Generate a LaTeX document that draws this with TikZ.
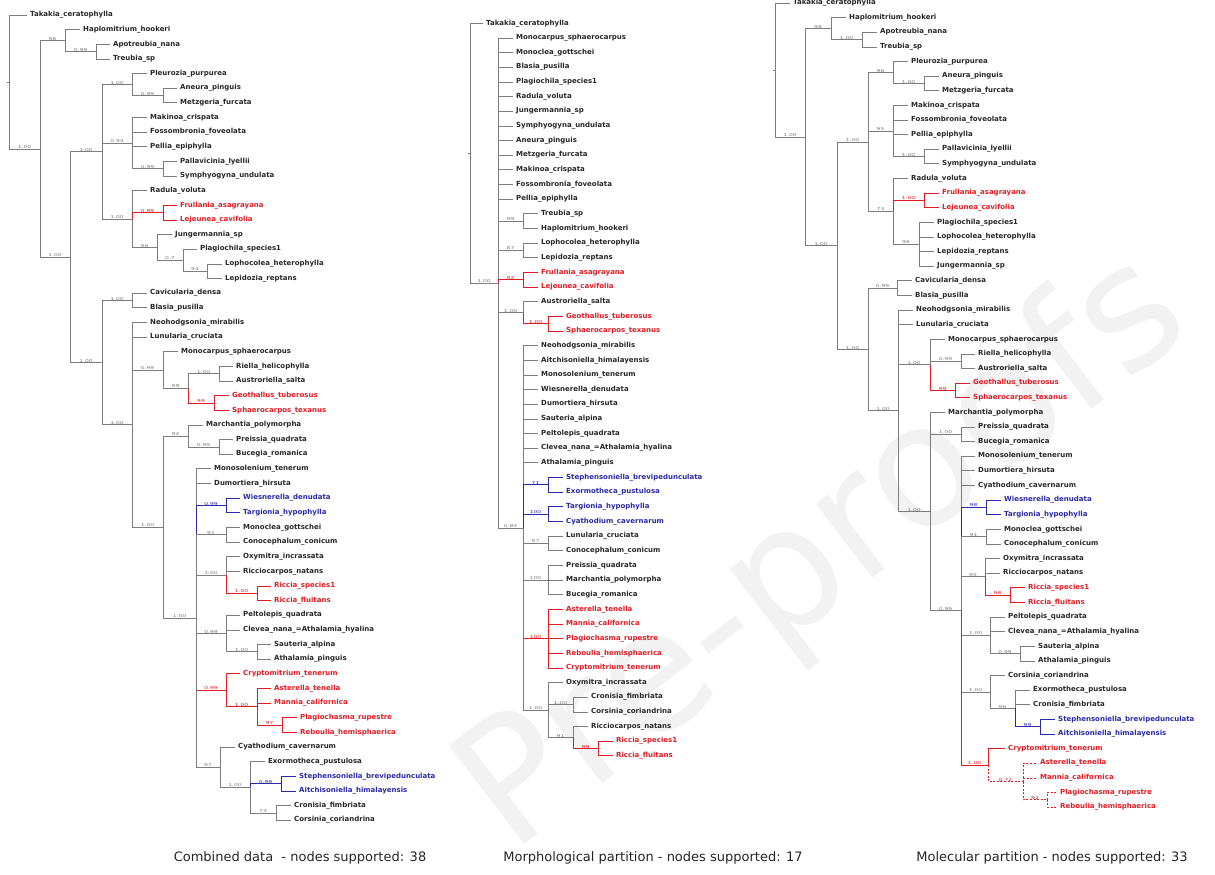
\documentclass[tikz,border=0pt]{standalone}
\usepackage{fontspec}
\usepackage{graphicx}
\newfontfamily\dejavu{DejaVu Sans}
\definecolor{linegray}{RGB}{125,125,125}
\definecolor{taxgray}{RGB}{40,40,40}
\definecolor{treered}{RGB}{226,28,36}
\definecolor{treeblue}{RGB}{42,42,168}
\definecolor{markgray}{RGB}{242,242,242}
\tikzset{
  brline/.style={line width=0.7pt},
  taxon/.style={anchor=west, inner xsep=3pt, inner ysep=0pt, text height=5pt, text depth=1.5pt,
    font=\dejavu\bfseries\fontsize{7}{8}\selectfont},
  supp/.style={anchor=south, inner sep=0.3pt, yshift=-0.3pt, font=\dejavu\fontsize{4}{5}\selectfont},
  gry/.style={color=linegray}, rd/.style={color=treered}, bl/.style={color=treeblue},
  dsh/.style={color=treered, dash pattern=on 2pt off 1.6pt},
  grytxt/.style={text=taxgray}, rdtxt/.style={text=treered}, bltxt/.style={text=treeblue},
  dshtxt/.style={text=treered},
  capt/.style={font=\dejavu\fontsize{13}{15}\selectfont, text=black!85},
}
% leaf: [colour]{parent}{name}{end x,row}{text}
\newcommand\taxon[5][gry]{%
  \node[taxon,#1txt] (#3) at (#4) {#5};
  \draw[brline,#1] (#2) |- (#3.west);}
% inner node: [colour]{parent}{name}{x,row}{support}
\newcommand\clade[5][gry]{%
  \coordinate (#3) at (#4);
  \draw[brline,#1] (#2) |- (#3) node[supp,pos=0.75] (#3s) {\scalebox{1.5}[1]{#5}};}
\begin{document}
\begin{tikzpicture}[x=1pt,y=-1pt]
	\fill[white] (0,0) rectangle (1215,875);
	\useasboundingbox (0,0) rectangle (1215,875);
	\node[font=\dejavu\fontsize{170}{170}\selectfont, text=markgray, rotate=37.5] (mark) at (825,555) {Pre-proofs};
	% combined data
	\begin{scope}[y=-14.64pt, yshift=-15pt]
	\coordinate (cR) at (9,4.57);
	\draw[brline,gry] (cR) -- ++(-2,0);
	\taxon{cR}{c0}{27,0}{Takakia\_ceratophylla}
	\clade{cR}{cA}{40,9.145}{1.00}
	\clade{cA}{cH}{65,1.75}{98}
	\taxon{cH}{c1}{80,1}{Haplomitrium\_hookeri}
	\clade{cH}{cH2}{96,2.5}{0.99}
	\taxon{cH2}{c2}{110,2}{Apotreubia\_nana}
	\taxon{cH2}{c3}{110,3}{Treubia\_sp}
	\clade{cA}{cB}{70,16.54}{1.00}
	\clade{cB}{cC1}{102,9.34}{1.00}
	\clade{cC1}{cP}{132,4.75}{1.00}
	\taxon{cP}{c4}{147,4}{Pleurozia\_purpurea}
	\clade{cP}{cP2}{163,5.5}{0.99}
	\taxon{cP2}{c5}{177,5}{Aneura\_pinguis}
	\taxon{cP2}{c6}{177,6}{Metzgeria\_furcata}
	\clade{cC1}{cM}{132,8.75}{0.94}
	\taxon{cM}{c7}{147,7}{Makinoa\_crispata}
	\taxon{cM}{c8}{147,8}{Fossombronia\_foveolata}
	\taxon{cM}{c9}{147,9}{Pellia\_epiphylla}
	\clade{cM}{cM2}{163,10.5}{0.99}
	\taxon{cM2}{c10}{177,10}{Pallavicinia\_lyellii}
	\taxon{cM2}{c11}{177,11}{Symphyogyna\_undulata}
	\clade{cC1}{cJ}{132,13.94}{1.00}
	\taxon{cJ}{c12}{147,12}{Radula\_voluta}
	\clade[rd]{cJ}{cFr}{163,13.5}{0.99}
	\taxon[rd]{cFr}{c13}{177,13}{Frullania\_asagrayana}
	\taxon[rd]{cFr}{c14}{177,14}{Lejeunea\_cavifolia}
	\clade{cJ}{cJ2}{157,15.875}{96}
	\taxon{cJ2}{c15}{172,15}{Jungermannia\_sp}
	\clade{cJ2}{cJ3}{183,16.75}{0.7}
	\taxon{cJ3}{c16}{197,16}{Plagiochila\_species1}
	\clade{cJ3}{cJ4}{207,17.5}{94}
	\taxon{cJ4}{c17}{222,17}{Lophocolea\_heterophylla}
	\taxon{cJ4}{c18}{222,18}{Lepidozia\_reptans}
	\clade{cB}{cC2}{102,23.74}{1.00}
	\clade{cC2}{cCa}{132,19.5}{1.00}
	\taxon{cCa}{c19}{147,19}{Cavicularia\_densa}
	\taxon{cCa}{c20}{147,20}{Blasia\_pusilla}
	\clade{cC2}{cD}{132,27.98}{1.00}
	\taxon{cD}{c21}{147,21}{Neohodgsonia\_mirabilis}
	\taxon{cD}{c22}{147,22}{Lunularia\_cruciata}
	\clade{cD}{cMo}{163,24.25}{0.99}
	\taxon{cMo}{c23}{178,23}{Monocarpus\_sphaerocarpus}
	\clade{cMo}{cMo2}{188,25.5}{99}
	\clade{cMo2}{cRi}{219,24.5}{1.00}
	\taxon{cRi}{c24}{233,24}{Riella\_helicophylla}
	\taxon{cRi}{c25}{233,25}{Austroriella\_salta}
	\clade[rd]{cMo2}{cGe}{214,26.5}{99}
	\taxon[rd]{cGe}{c26}{229,26}{Geothallus\_tuberosus}
	\taxon[rd]{cGe}{c27}{229,27}{Sphaerocarpos\_texanus}
	\clade{cD}{cE}{163,34.97}{1.00}
	\clade{cE}{cMa}{188,28.75}{94}
	\taxon{cMa}{c28}{203,28}{Marchantia\_polymorpha}
	\clade{cMa}{cPr}{219,29.5}{0.99}
	\taxon{cPr}{c29}{233,29}{Preissia\_quadrata}
	\taxon{cPr}{c30}{233,30}{Bucegia\_romanica}
	\clade{cE}{cF}{196,41.19}{1.00}
	\taxon{cF}{c31}{211,31}{Monosolenium\_tenerum}
	\taxon{cF}{c32}{211,32}{Dumortiera\_hirsuta}
	\clade[bl]{cF}{cWi}{226,33.5}{0.99}
	\taxon[bl]{cWi}{c33}{240,33}{Wiesnerella\_denudata}
	\taxon[bl]{cWi}{c34}{240,34}{Targionia\_hypophylla}
	\clade{cF}{cMn}{226,35.5}{91}
	\taxon{cMn}{c35}{240,35}{Monoclea\_gottschei}
	\taxon{cMn}{c36}{240,36}{Conocephalum\_conicum}
	\clade{cF}{cOx}{226,38.25}{1.00}
	\taxon{cOx}{c37}{240,37}{Oxymitra\_incrassata}
	\taxon{cOx}{c38}{240,38}{Ricciocarpos\_natans}
	\clade[rd]{cOx}{cRc}{257,39.5}{1.00}
	\taxon[rd]{cRc}{c39}{271,39}{Riccia\_species1}
	\taxon[rd]{cRc}{c40}{271,40}{Riccia\_fluitans}
	\clade{cF}{cPe}{226,42.25}{0.99}
	\taxon{cPe}{c41}{240,41}{Peltolepis\_quadrata}
	\taxon{cPe}{c42}{240,42}{Clevea\_nana\_=Athalamia\_hyalina}
	\clade{cPe}{cSa}{257,43.5}{1.00}
	\taxon{cSa}{c43}{271,43}{Sauteria\_alpina}
	\taxon{cSa}{c44}{271,44}{Athalamia\_pinguis}
	\clade[rd]{cF}{cCr}{226,46.125}{0.99}
	\taxon[rd]{cCr}{c45}{240,45}{Cryptomitrium\_tenerum}
	\clade[rd]{cCr}{cAs}{257,47.25}{1.00}
	\taxon[rd]{cAs}{c46}{271,46}{Asterella\_tenella}
	\taxon[rd]{cAs}{c47}{271,47}{Mannia\_californica}
	\clade[rd]{cAs}{cPl}{282,48.5}{97}
	\taxon[rd]{cPl}{c48}{297,48}{Plagiochasma\_rupestre}
	\taxon[rd]{cPl}{c49}{297,49}{Reboulia\_hemisphaerica}
	\clade{cF}{cCy}{220,51.375}{97}
	\taxon{cCy}{c50}{235,50}{Cyathodium\_cavernarum}
	\clade{cCy}{cEx}{250,52.75}{1.00}
	\taxon{cEx}{c51}{265,51}{Exormotheca\_pustulosa}
	\clade[bl]{cEx}{cSt}{281,52.5}{0.99}
	\taxon[bl]{cSt}{c52}{296,52}{Stephensoniella\_brevipedunculata}
	\taxon[bl]{cSt}{c53}{296,53}{Aitchisoniella\_himalayensis}
	\clade{cEx}{cCo}{276,54.5}{73}
	\taxon{cCo}{c54}{291,54}{Cronisia\_fimbriata}
	\taxon{cCo}{c55}{291,55}{Corsinia\_coriandrina}
	\end{scope}
	% morphological partition
	\begin{scope}[y=-14.65pt, yshift=-23.3pt]
	\coordinate (mR) at (470,8.86);
	\draw[brline,gry] (mR) -- ++(-2,0);
	\taxon{mR}{m0}{483,0}{Takakia\_ceratophylla}
	\clade{mR}{mA}{498,17.72}{1.00}
	\taxon{mA}{m1}{513,1}{Monocarpus\_sphaerocarpus}
	\taxon{mA}{m2}{513,2}{Monoclea\_gottschei}
	\taxon{mA}{m3}{513,3}{Blasia\_pusilla}
	\taxon{mA}{m4}{513,4}{Plagiochila\_species1}
	\taxon{mA}{m5}{513,5}{Radula\_voluta}
	\taxon{mA}{m6}{513,6}{Jungermannia\_sp}
	\taxon{mA}{m7}{513,7}{Symphyogyna\_undulata}
	\taxon{mA}{m8}{513,8}{Aneura\_pinguis}
	\taxon{mA}{m9}{513,9}{Metzgeria\_furcata}
	\taxon{mA}{m10}{513,10}{Makinoa\_crispata}
	\taxon{mA}{m11}{513,11}{Fossombronia\_foveolata}
	\taxon{mA}{m12}{513,12}{Pellia\_epiphylla}
	\clade{mA}{mT}{523,13.5}{99}
	\taxon{mT}{m13}{538,13}{Treubia\_sp}
	\taxon{mT}{m14}{538,14}{Haplomitrium\_hookeri}
	\clade{mA}{mLo}{523,15.5}{87}
	\taxon{mLo}{m15}{538,15}{Lophocolea\_heterophylla}
	\taxon{mLo}{m16}{538,16}{Lepidozia\_reptans}
	\clade[rd]{mA}{mFr}{523,17.5}{92}
	\taxon[rd]{mFr}{m17}{538,17}{Frullania\_asagrayana}
	\taxon[rd]{mFr}{m18}{538,18}{Lejeunea\_cavifolia}
	\clade{mA}{mAu}{523,19.75}{1.00}
	\taxon{mAu}{m19}{538,19}{Austroriella\_salta}
	\clade[rd]{mAu}{mGe}{548,20.5}{1.00}
	\taxon[rd]{mGe}{m20}{563,20}{Geothallus\_tuberosus}
	\taxon[rd]{mGe}{m21}{563,21}{Sphaerocarpos\_texanus}
	\clade{mA}{mN}{523,34.44}{0.83}
	\taxon{mN}{m22}{538,22}{Neohodgsonia\_mirabilis}
	\taxon{mN}{m23}{538,23}{Aitchisoniella\_himalayensis}
	\taxon{mN}{m24}{538,24}{Monosolenium\_tenerum}
	\taxon{mN}{m25}{538,25}{Wiesnerella\_denudata}
	\taxon{mN}{m26}{538,26}{Dumortiera\_hirsuta}
	\taxon{mN}{m27}{538,27}{Sauteria\_alpina}
	\taxon{mN}{m28}{538,28}{Peltolepis\_quadrata}
	\taxon{mN}{m29}{538,29}{Clevea\_nana\_=Athalamia\_hyalina}
	\taxon{mN}{m30}{538,30}{Athalamia\_pinguis}
	\clade[bl]{mN}{mSt}{548,31.5}{71}
	\taxon[bl]{mSt}{m31}{563,31}{Stephensoniella\_brevipedunculata}
	\taxon[bl]{mSt}{m32}{563,32}{Exormotheca\_pustulosa}
	\clade[bl]{mN}{mTa}{548,33.5}{100}
	\taxon[bl]{mTa}{m33}{563,33}{Targionia\_hypophylla}
	\taxon[bl]{mTa}{m34}{563,34}{Cyathodium\_cavernarum}
	\clade{mN}{mLu}{548,35.5}{97}
	\taxon{mLu}{m35}{563,35}{Lunularia\_cruciata}
	\taxon{mLu}{m36}{563,36}{Conocephalum\_conicum}
	\clade{mN}{mPr}{548,38}{100}
	\taxon{mPr}{m37}{563,37}{Preissia\_quadrata}
	\taxon{mPr}{m38}{563,38}{Marchantia\_polymorpha}
	\taxon{mPr}{m39}{563,39}{Bucegia\_romanica}
	\clade[rd]{mN}{mAs}{548,42}{100}
	\taxon[rd]{mAs}{m40}{563,40}{Asterella\_tenella}
	\taxon[rd]{mAs}{m41}{563,41}{Mannia\_californica}
	\taxon[rd]{mAs}{m42}{563,42}{Plagiochasma\_rupestre}
	\taxon[rd]{mAs}{m43}{563,43}{Reboulia\_hemisphaerica}
	\taxon[rd]{mAs}{m44}{563,44}{Cryptomitrium\_tenerum}
	\clade{mN}{mOx}{548,46.875}{1.00}
	\taxon{mOx}{m45}{563,45}{Oxymitra\_incrassata}
	\clade{mOx}{mCr}{573,46.5}{1.00}
	\taxon{mCr}{m46}{588,46}{Cronisia\_fimbriata}
	\taxon{mCr}{m47}{588,47}{Corsinia\_coriandrina}
	\clade{mOx}{mRi}{573,48.75}{91}
	\taxon{mRi}{m48}{588,48}{Ricciocarpos\_natans}
	\clade[rd]{mRi}{mRc}{598,49.5}{99}
	\taxon[rd]{mRc}{m49}{613,49}{Riccia\_species1}
	\taxon[rd]{mRc}{m50}{613,50}{Riccia\_fluitans}
	\end{scope}
	% molecular partition
	\begin{scope}[y=-14.62pt, yshift=-3pt]
	\coordinate (kR) at (775,4.59);
	\draw[brline,gry] (kR) -- ++(-2,0);
	\taxon{kR}{k0}{790,0}{Takakia\_ceratophylla}
	\clade{kR}{kA}{805,9.17}{1.00}
	\clade{kA}{kH}{831,1.75}{98}
	\taxon{kH}{k1}{846,1}{Haplomitrium\_hookeri}
	\clade{kH}{kH2}{862,2.5}{1.00}
	\taxon{kH2}{k2}{877,2}{Apotreubia\_nana}
	\taxon{kH2}{k3}{877,3}{Treubia\_sp}
	\clade{kA}{kB}{837,16.6}{1.00}
	\clade{kB}{kC1}{868,9.5}{1.00}
	\clade{kC1}{kP}{893,4.75}{96}
	\taxon{kP}{k4}{908,4}{Pleurozia\_purpurea}
	\clade{kP}{kP2}{924,5.5}{1.00}
	\taxon{kP2}{k5}{939,5}{Aneura\_pinguis}
	\taxon{kP2}{k6}{939,6}{Metzgeria\_furcata}
	\clade{kC1}{kM}{893,8.75}{95}
	\taxon{kM}{k7}{908,7}{Makinoa\_crispata}
	\taxon{kM}{k8}{908,8}{Fossombronia\_foveolata}
	\taxon{kM}{k9}{908,9}{Pellia\_epiphylla}
	\clade{kM}{kM2}{924,10.5}{1.00}
	\taxon{kM2}{k10}{939,10}{Pallavicinia\_lyellii}
	\taxon{kM2}{k11}{939,11}{Symphyogyna\_undulata}
	\clade{kC1}{kJ}{893,14.25}{73}
	\taxon{kJ}{k12}{908,12}{Radula\_voluta}
	\clade[rd]{kJ}{kFr}{924,13.5}{1.00}
	\taxon[rd]{kFr}{k13}{939,13}{Frullania\_asagrayana}
	\taxon[rd]{kFr}{k14}{939,14}{Lejeunea\_cavifolia}
	\clade{kJ}{kPl}{919,16.5}{96}
	\taxon{kPl}{k15}{934,15}{Plagiochila\_species1}
	\taxon{kPl}{k16}{934,16}{Lophocolea\_heterophylla}
	\taxon{kPl}{k17}{934,17}{Lepidozia\_reptans}
	\taxon{kPl}{k18}{934,18}{Jungermannia\_sp}
	\clade{kB}{kC2}{868,23.7}{1.00}
	\clade{kC2}{kCa}{897,19.5}{0.99}
	\taxon{kCa}{k19}{912,19}{Cavicularia\_densa}
	\taxon{kCa}{k20}{912,20}{Blasia\_pusilla}
	\clade{kC2}{kD}{898,27.89}{1.00}
	\taxon{kD}{k21}{913,21}{Neohodgsonia\_mirabilis}
	\taxon{kD}{k22}{913,22}{Lunularia\_cruciata}
	\clade{kD}{kMo}{930,24.75}{1.00}
	\taxon{kMo}{k23}{945,23}{Monocarpus\_sphaerocarpus}
	\clade{kMo}{kRi}{961,24.5}{0.99}
	\taxon{kRi}{k24}{975,24}{Riella\_helicophylla}
	\taxon{kRi}{k25}{975,25}{Austroriella\_salta}
	\clade[rd]{kMo}{kGe}{955,26.5}{99}
	\taxon[rd]{kGe}{k26}{970,26}{Geothallus\_tuberosus}
	\taxon[rd]{kGe}{k27}{970,27}{Sphaerocarpos\_texanus}
	\clade{kD}{kE}{930,34.78}{1.00}
	\taxon{kE}{k28}{945,28}{Marchantia\_polymorpha}
	\clade{kE}{kPr}{961,29.5}{1.00}
	\taxon{kPr}{k29}{975,29}{Preissia\_quadrata}
	\taxon{kPr}{k30}{975,30}{Bucegia\_romanica}
	\clade{kE}{kF}{961,41.56}{0.99}
	\taxon{kF}{k31}{975,31}{Monosolenium\_tenerum}
	\taxon{kF}{k32}{975,32}{Dumortiera\_hirsuta}
	\taxon{kF}{k33}{975,33}{Cyathodium\_cavernarum}
	\clade[bl]{kF}{kWi}{986,34.5}{98}
	\taxon[bl]{kWi}{k34}{1001,34}{Wiesnerella\_denudata}
	\taxon[bl]{kWi}{k35}{1001,35}{Targionia\_hypophylla}
	\clade{kF}{kMn}{986,36.5}{91}
	\taxon{kMn}{k36}{1001,36}{Monoclea\_gottschei}
	\taxon{kMn}{k37}{1001,37}{Conocephalum\_conicum}
	\clade{kF}{kOx}{985,39.25}{95}
	\taxon{kOx}{k38}{1000,38}{Oxymitra\_incrassata}
	\taxon{kOx}{k39}{1000,39}{Ricciocarpos\_natans}
	\clade[rd]{kOx}{kRc}{1010,40.5}{98}
	\taxon[rd]{kRc}{k40}{1025,40}{Riccia\_species1}
	\taxon[rd]{kRc}{k41}{1025,41}{Riccia\_fluitans}
	\clade{kF}{kPe}{990,43.25}{1.00}
	\taxon{kPe}{k42}{1005,42}{Peltolepis\_quadrata}
	\taxon{kPe}{k43}{1005,43}{Clevea\_nana\_=Athalamia\_hyalina}
	\clade{kPe}{kSa}{1020,44.5}{0.99}
	\taxon{kSa}{k44}{1035,44}{Sauteria\_alpina}
	\taxon{kSa}{k45}{1035,45}{Athalamia\_pinguis}
	\clade{kF}{kCo}{990,47.125}{1.00}
	\taxon{kCo}{k46}{1005,46}{Corsinia\_coriandrina}
	\clade{kCo}{kEx}{1015,48.25}{96}
	\taxon{kEx}{k47}{1030,47}{Exormotheca\_pustulosa}
	\taxon{kEx}{k48}{1030,48}{Cronisia\_fimbriata}
	\clade[bl]{kEx}{kSt}{1040,49.5}{99}
	\taxon[bl]{kSt}{k49}{1055,49}{Stephensoniella\_brevipedunculata}
	\taxon[bl]{kSt}{k50}{1055,50}{Aitchisoniella\_himalayensis}
	\clade[rd]{kF}{kCr}{988,52.125}{1.00}
	\taxon[rd]{kCr}{k51}{1005,51}{Cryptomitrium\_tenerum}
	\clade[dsh]{kCr}{kAs}{1023,53.25}{0.72}
	\taxon[dsh]{kAs}{k52}{1037,52}{Asterella\_tenella}
	\taxon[dsh]{kAs}{k53}{1037,53}{Mannia\_californica}
	\clade[dsh]{kAs}{kPl}{1047,54.5}{92}
	\taxon[dsh]{kPl}{k54}{1057,54}{Plagiochasma\_rupestre}
	\taxon[dsh]{kPl}{k55}{1057,55}{Reboulia\_hemisphaerica}
	\end{scope}
	% captions
	\node[capt] (capComb) at (300,858) {Combined data\ \ - nodes supported: 38};
	\node[capt] (capMorph) at (653,858) {Morphological partition - nodes supported: 17};
	\node[capt] (capMol) at (1052,858) {Molecular partition - nodes supported: 33};
\end{tikzpicture}
\end{document}
